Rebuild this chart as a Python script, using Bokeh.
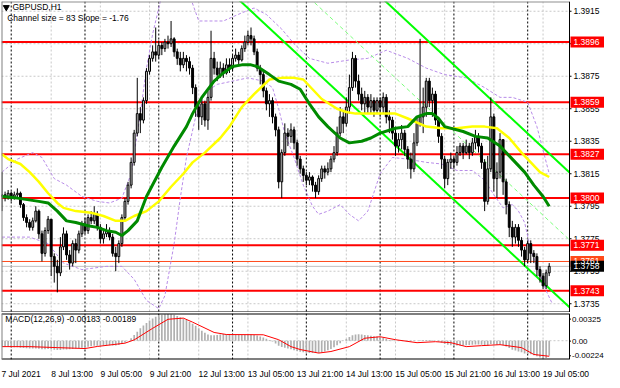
import numpy as np
from bokeh.plotting import figure
from bokeh.layouts import column
from bokeh.models import Range1d, FixedTicker, Span
from bokeh.core.properties import value
from bokeh.embed import file_html
from bokeh.resources import INLINE

FONT = "Liberation Sans"
FS = "8.5px"
BASE = 1.3700  # candle values are pips above BASE

# ---------------- data (H1 bars, index 0 = 7 Jul 21:00) ----------------
FIRST_OPEN = 101
CLOSE = [102,101,103,100,102,103,96,88,85,82,
         86,92,78,66,80,87,64,58,54,70,
         78,65,60,72,68,78,84,80,88,86,
         90,82,75,78,80,76,66,64,72,88,
         98,108,122,140,152,148,160,178,186,190,
         188,194,192,196,195,198,190,186,182,186,
         184,180,168,156,150,158,148,162,186,180,
         176,180,177,182,180,186,188,185,192,196,
         200,198,190,180,176,166,158,160,150,142,
         110,128,140,138,142,134,124,118,114,111,
         113,108,104,112,118,116,118,124,128,140,
         150,146,156,168,186,172,164,158,162,156,
         160,154,160,156,162,150,148,140,132,136,
         140,130,124,118,134,146,150,156,172,160,
         164,148,138,124,112,122,124,122,128,132,
         128,132,128,134,138,132,122,98,118,150,
         112,116,136,110,96,82,76,82,74,68,
         62,72,66,64,56,52,46,54,58]
HIGH = [116,104,105,104,104,106,104,97,90,87,
        88,95,93,80,82,89,87,66,62,76,
        82,80,68,74,75,80,86,88,90,92,
        95,92,84,80,84,82,78,70,74,90,
        100,110,125,142,174,156,162,180,188,194,
        205,197,196,198,200,209,199,192,190,190,
        188,187,182,170,160,162,160,166,203,190,
        184,184,183,186,186,188,192,190,194,200,
        203,205,200,192,182,178,168,164,162,152,
        144,130,146,143,146,144,136,126,120,116,
        116,114,110,114,120,120,122,126,132,144,
        156,154,162,176,190,188,176,168,166,164,
        164,162,162,162,165,164,154,150,144,140,
        145,142,132,128,140,150,198,168,174,174,
        168,166,150,140,126,124,128,126,132,134,
        134,136,134,137,142,140,134,124,126,162,
        152,122,140,136,112,98,86,84,84,76,
        70,74,74,68,66,58,54,56,60]
LOW = [92,98,99,98,99,100,94,86,82,80,
       80,85,75,61,64,78,52,48,42,52,
       68,62,56,58,60,66,76,78,78,84,
       84,80,72,72,76,74,64,55,60,70,
       86,96,106,120,138,140,146,158,176,184,
       184,186,188,190,192,193,187,182,178,180,
       178,176,164,150,142,145,144,142,160,176,
       172,174,174,176,177,178,184,182,184,190,
       194,194,188,178,170,162,154,150,146,138,
       106,100,126,132,134,130,120,115,110,108,
       108,104,100,102,110,112,114,116,122,126,
       138,140,144,152,166,168,160,154,152,152,
       152,150,152,150,152,146,140,136,126,128,
       130,126,118,112,116,132,144,140,150,156,
       150,145,134,118,106,108,118,118,120,126,
       124,127,124,126,130,128,118,92,96,116,
       104,100,112,102,90,76,70,72,70,64,
       58,60,60,60,52,48,44,44,52]

# moving averages (bar index, pips)
GREEN_X = [0,5,12,15,18,21,24,28,31,34,37,39,41,44,47,52,56,60,62,65,
           69,72,75,78,81,83,87,90,94,97,100,103,106,110,113,117,120,123,128,132,
           135,138,140,142,144,150,154,158,162,165,170,173,176,178]
GREEN_V = [101,100,98,97,92,86,85,83,82,80,79,77,80,86,101,119,132,144,152,162,
           172,177,181,182,182,181,176,172,170,167,158,150,144,137,134,135,137,140,143,144,
           150,152,152,149,144,141,138,137,132,126,116,108,101,95]
YELLOW_X = [0,2,6,9,12,15,18,20,24,29,33,37,40,43,47,51,55,59,62,66,
            71,74,78,82,87,91,95,98,101,104,109,112,115,119,123,128,132,138,143,148,
            153,157,161,165,169,172,175,178]
YELLOW_V = [127,124,121,116,110,103,97,94,92,91,89,86,86,89,92,98,107,115,122,128,
            137,144,156,164,173,174,174,173,167,161,155,153,152,152,152,152,149,144,143,143,
            144,144,143,137,128,122,116,113]
# bands (bar index, pips)
UP_X = [0,5,10,13,17,21,26,31,35,39,42,45,47,49,52,61,64,72,78,82,
        86,91,95,100,106,113,119,125,132,138,144,151,157,162,166,171,174,178]
UP_V = [116,124,128,125,112,108,101,98,97,100,115,152,180,201,225,225,209,209,214,217,
        213,204,195,186,183,185,186,191,186,180,176,174,168,162,162,159,144,115]
LO_X = [0,9,15,20,26,34,39,43,47,51,53,56,58,60,63,66,70,75,80,85,
        88,90,92,95,98,101,103,106,110,113,116,119,123,127,132,138,143,148,153,157,
        160,163,166,168,170,172,174,177,179]
LO_V = [76,76,72,60,56,58,58,50,37,32,40,72,100,125,150,165,170,172,174,172,
        168,155,140,125,108,95,90,92,96,90,86,92,115,125,124,122,121,117,117,111,
        102,94,96,92,85,68,58,43,35]
# regression channel (bar index, pips)
CH_X = [70, 184.6]
CH_LOWER = [234.5, 32.8]
CH_MID = [276.0, 74.3]
CH_UPPER = [317.5, 115.8]

# MACD histogram (1e-5 units) and signal line
HIST = [-70,-72,-74,-76,-78,-80,-84,-88,-92,-95,
        -96,-95,-98,-104,-104,-100,-104,-110,-114,-112,
        -108,-106,-104,-100,-96,-90,-84,-78,-72,-66,
        -62,-60,-60,-58,-56,-56,-58,-58,-52,-40,
        -22,0,30,70,110,150,185,215,245,270,
        290,305,315,322,325,322,315,300,285,270,
        250,230,205,180,150,120,95,75,65,65,
        70,75,80,82,80,75,70,68,68,72,
        76,75,70,62,52,40,25,10,-10,-35,
        -60,-75,-85,-95,-105,-115,-125,-133,-140,-145,
        -148,-150,-150,-148,-140,-130,-115,-100,-80,-55,
        -30,-5,20,45,65,75,78,75,70,65,
        60,55,50,42,32,20,10,5,0,-5,
        -5,-3,-5,-8,-5,0,5,8,10,8,
        5,0,-10,-25,-40,-50,-55,-58,-58,-58,
        -58,-55,-52,-50,-45,-45,-50,-65,-60,-40,
        -45,-50,-45,-55,-70,-90,-110,-120,-130,-140,
        -155,-160,-165,-175,-190,-205,-224,-210,-183]
SIG_X = [0,9,18,27,31,40,43,49,54,59,62,69,73,85,90,94,97,103,107,113,
         118,123,128,135,141,146,151,156,162,169,173,178]
SIG_V = [-72,-72,-84,-95,-70,-30,10,150,260,274,225,100,75,72,12,-72,-107,-150,-131,-72,
         30,48,12,-24,-12,-24,-72,-60,-48,-84,-167,-189]

LEVELS = [1.3896, 1.3859, 1.3827, 1.3800, 1.3771, 1.3743]
ORANGE_LEVEL = 1.3761
BID = 1.3758
PRICE_TICKS = [1.3915, 1.3895, 1.3875, 1.3855, 1.3835, 1.3815, 1.3795, 1.3775, 1.3755, 1.3735]
TIME_IDX = [0, 16, 32, 48, 64, 80, 96, 112, 128, 144, 160, 176]
TIME_LABELS = ["7 Jul 2021", "8 Jul 13:00", "9 Jul 05:00", "9 Jul 21:00", "12 Jul 13:00",
               "13 Jul 05:00", "13 Jul 21:00", "14 Jul 13:00", "15 Jul 05:00",
               "15 Jul 21:00", "16 Jul 13:00", "19 Jul 05:00"]
DAY_IDX = [3, 27, 51, 75, 99, 123, 147, 171]
MACD_TEXT = "MACD(12,26,9) -0.00183 -0.00189"
MACD_LABELS = ["0.00325", "0.00", "-0.00224"]
MACD_LABEL_POS = [0.00262, -0.00005, -0.00183]

# ---------------- geometry ----------------
def pr(v):
    return BASE + np.asarray(v, dtype=float) / 1e4

n = len(CLOSE)
idx = np.arange(n)
c = pr(CLOSE)
o = pr([FIRST_OPEN] + CLOSE[:-1])
h = pr(HIGH)
l = pr(LOW)
up = c >= o

X0, X1 = -0.16, 184.6          # chart area (bars)
FW_CHART = 568                  # px of chart area
PPB = FW_CHART / (X1 - X0)      # px per bar
FW = 603                        # full frame incl. price-label column
XE = X0 + FW / PPB
PX = 1.0 / PPB                  # one pixel in bar units
Y0, Y1 = 1.37296, 1.39210
MH = 311
PY = (Y1 - Y0) / MH             # one pixel in price units
MY0, MY1 = -0.00228, 0.00330
MHH = 46


def base_fig(height, yr, **kw):
    f = figure(frame_width=FW, frame_height=height, x_range=Range1d(X0, XE), y_range=yr,
               output_backend="svg", toolbar_location=None, y_axis_location=None,
               min_border_left=1, min_border_right=0, min_border_top=1, **kw)
    f.outline_line_color = None
    f.background_fill_color = "white"
    f.border_fill_color = "white"
    f.xgrid.visible = False
    f.ygrid.visible = False
    return f


def vlines(fig):
    for t in TIME_IDX[1:]:
        fig.add_layout(Span(location=t, dimension="height", line_color="#C8C8C8",
                            line_dash="2 2", line_width=1, level="underlay"))
    for d in DAY_IDX:
        fig.add_layout(Span(location=d, dimension="height", line_color="black",
                            line_dash="2 2", line_width=1, level="underlay"))


def borders(fig, ylo, yhi, top_color):
    fig.segment(x0=[X0], y0=[yhi], x1=[X1], y1=[yhi], line_color=top_color, line_width=2)
    fig.segment(x0=[X0], y0=[ylo], x1=[X1], y1=[ylo], line_color="black", line_width=2)
    fig.segment(x0=[X1], y0=[ylo], x1=[X1], y1=[yhi], line_color="black", line_width=1)
    fig.segment(x0=[X0], y0=[ylo], x1=[X0], y1=[yhi], line_color="#808080", line_width=2)


# ---------------- main price panel ----------------
p = base_fig(MH, Range1d(Y0, Y1), x_axis_location=None, min_border_bottom=0)
vlines(p)
p.segment(x0=[X0] * len(PRICE_TICKS), y0=PRICE_TICKS, x1=[X1] * len(PRICE_TICKS), y1=PRICE_TICKS,
          line_color="#C8C8C8", line_dash="2 2", line_width=1)
p.segment(x0=[X0], y0=[BID], x1=[X1], y1=[BID], line_color="#C0C0C0", line_width=1)
p.segment(x0=[X0] * len(LEVELS), y0=LEVELS, x1=[X1] * len(LEVELS), y1=LEVELS,
          line_color="#FF0000", line_width=2)
p.segment(x0=[X0], y0=[ORANGE_LEVEL], x1=[X1], y1=[ORANGE_LEVEL], line_color="#FF4A1A", line_width=1)

# bands and channel
p.line(UP_X, pr(UP_V), line_color="#B88CE8", line_dash="3 2", line_width=1)
p.line(LO_X, pr(LO_V), line_color="#B88CE8", line_dash="3 2", line_width=1)
p.line(CH_X, pr(CH_LOWER), line_color="#00FF00", line_width=2)
p.line(CH_X, pr(CH_UPPER), line_color="#00FF00", line_width=2)
p.line(CH_X, pr(CH_MID), line_color="#7CFF7C", line_width=1, line_dash="4 3")

# candles
p.segment(x0=idx, y0=l, x1=idx, y1=h, line_color="black", line_width=1)
p.vbar(x=idx[up], width=0.62, top=c[up], bottom=o[up], fill_color="#C4C4C4", line_color="black", line_width=1)
p.vbar(x=idx[~up], width=0.62, top=o[~up], bottom=c[~up], fill_color="black", line_color="black", line_width=1)

# moving averages
p.line(YELLOW_X, pr(YELLOW_V), line_color="#FFFF00", line_width=2.5)
p.line(GREEN_X, pr(GREEN_V), line_color="#008A00", line_width=3)

# white cover + borders of the chart area
p.quad(left=[X1], right=[XE], bottom=[Y0], top=[Y1], fill_color="white", line_color=None)
borders(p, Y0, Y1, "#909090")

# header texts
p.scatter([1.4], [pr(217.4)], marker="inverted_triangle", size=6, color="black")
p.text(x=[3.4], y=[pr(217.4)], text=["GBPUSD,H1"], text_font=value(FONT), text_font_size=value(FS),
       text_baseline="middle", text_color="black")
p.text(x=[1.7], y=[pr(210.8)], text=["Channel size = 83 Slope = -1.76"], text_font=value(FONT),
       text_font_size=value(FS), text_baseline="middle", text_color="black")

# price scale
p.segment(x0=[X1] * len(PRICE_TICKS), y0=PRICE_TICKS, x1=[X1 + 2 * PX] * len(PRICE_TICKS), y1=PRICE_TICKS,
          line_color="black", line_width=1)
p.text(x=[X1 + 4 * PX] * len(PRICE_TICKS), y=PRICE_TICKS, text=[f"{v:.4f}" for v in PRICE_TICKS],
       text_font=value(FONT), text_font_size=value(FS), text_baseline="middle", text_color="black")

box_levels = LEVELS + [ORANGE_LEVEL, BID]
box_colors = ["#FF0000"] * len(LEVELS) + ["#FF4A1A", "black"]
p.quad(left=[X1 + 1 * PX] * len(box_levels), right=[XE] * len(box_levels),
       bottom=[v - 5.5 * PY for v in box_levels], top=[v + 5.5 * PY for v in box_levels],
       fill_color=box_colors, line_color=None)
p.text(x=[X1 + 4 * PX] * len(box_levels), y=box_levels, text=[f"{v:.4f}" for v in box_levels],
       text_font=value(FONT), text_font_size=value(FS), text_baseline="middle", text_color="white")

# ---------------- MACD panel ----------------
m = base_fig(MHH, Range1d(MY0, MY1), min_border_bottom=14)
vlines(m)
m.segment(x0=[X0], y0=[0], x1=[X1], y1=[0], line_color="#C8C8C8", line_dash="2 2", line_width=1)
m.vbar(x=idx, width=0.55, top=np.array(HIST) * 1e-5, bottom=0, fill_color="#B0B0B0", line_color=None)
m.line(SIG_X, np.array(SIG_V) * 1e-5, line_color="#FF0000", line_width=1)
m.quad(left=[X1], right=[XE], bottom=[MY0], top=[MY1], fill_color="white", line_color=None)
borders(m, MY0, MY1, "black")
m.text(x=[1.1], y=[0.00262], text=[MACD_TEXT], text_font=value(FONT), text_font_size=value(FS),
       text_baseline="middle", text_color="black")
m.segment(x0=[X1] * 3, y0=MACD_LABEL_POS, x1=[X1 + 1.5 * PX] * 3, y1=MACD_LABEL_POS,
          line_color="black", line_width=1)
m.text(x=[X1 + 2.5 * PX] * 3, y=MACD_LABEL_POS, text=MACD_LABELS, text_font=value(FONT),
       text_font_size=value("8px"), text_baseline="middle", text_color="black")

shifted = [t + len(s) * 0.62 for t, s in zip(TIME_IDX, TIME_LABELS)]
m.xaxis.ticker = FixedTicker(ticks=shifted)
m.xaxis.major_label_overrides = {t: s for t, s in zip(shifted, TIME_LABELS)}
m.xaxis.axis_line_color = None
m.xaxis.major_tick_line_color = None
m.xaxis.minor_tick_line_color = None
m.xaxis.major_label_standoff = 3
m.xaxis.major_label_text_font = FONT
m.xaxis.major_label_text_font_size = FS
m.xaxis.major_label_text_color = "black"

layout = column(p, m)
open("out.html", "w").write(file_html(layout, INLINE))
